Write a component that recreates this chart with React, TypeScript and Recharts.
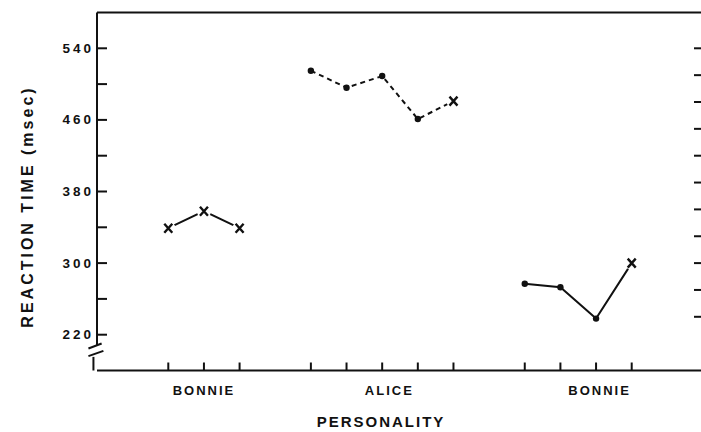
import { Line, LineChart, ReferenceLine, XAxis, YAxis } from 'recharts'

const INK = '#111'
const FONT = '"Liberation Sans", Arial, Helvetica, sans-serif'
const CHART_W = 703
const PLOT_RIGHT = CHART_W

// slot index on the x axis, reaction time (msec), marker type
const bonnieAX = [0, 1, 2]
const bonnieART = [339, 358, 339]
const bonnieAMarks = ['x', 'x', 'x']

const aliceX = [4, 5, 6, 7, 8]
const aliceRT = [515, 496, 509, 461, 481]
const aliceMarks = ['dot', 'dot', 'dot', 'dot', 'x']

const bonnieBX = [10, 11, 12, 13]
const bonnieBRT = [277, 273, 238, 300]
const bonnieBMarks = ['dot', 'dot', 'dot', 'x']

const slotTicks = [0, 1, 2, 4, 5, 6, 7, 8, 10, 11, 12, 13]
const groupTicks = [1, 6.2, 12.1]
const groupNames = ['BONNIE', 'ALICE', 'BONNIE']
const rtTicks = [220, 260, 300, 340, 380, 420, 460, 500, 540]
const rtLabelled = [220, 300, 380, 460, 540]
const rightTicks = [240, 270, 300, 330, 360, 390, 420, 450, 480, 510, 540]
const xDomain = [-2, 15]
const yDomain = [180, 580]

const allX = Array.from(new Set([...slotTicks, ...groupTicks])).sort((a, b) => a - b)
const allY = Array.from(new Set([...rtTicks, ...rightTicks])).sort((a, b) => a - b)

// left axis drawn in pieces so it can show the scale break
const axisUpper = [{ x: -2, y: 580 }, { x: -2, y: 208.3 }]
const axisLower = [{ x: -2.1, y: 195.2 }, { x: -2.1, y: 180 }]
const breakA = [{ x: -2.24, y: 204.6 }, { x: -1.87, y: 210.2 }]
const breakB = [{ x: -2.24, y: 196 }, { x: -1.82, y: 201.9 }]

const toPoints = (xs: number[], ys: number[], marks: string[]) =>
  xs.map((slot, i) => ({ slot, rt: ys[i], mark: marks[i] }))

function Marker(props: any) {
  const { cx, cy, payload, index } = props
  if (cx == null || cy == null) return null
  if (payload.mark === 'x') {
    return (
      <g key={index}>
        <circle cx={cx} cy={cy} r={7} fill="#fff" />
        <path
          d={`M${cx - 4},${cy - 4.5}L${cx + 4},${cy + 4.5}M${cx + 4},${cy - 4.5}L${cx - 4},${cy + 4.5}`}
          stroke={INK}
          strokeWidth={2.4}
        />
      </g>
    )
  }
  return <circle key={index} cx={cx} cy={cy} r={3.2} fill={INK} />
}

function XTick({ x, y, payload }: any) {
  const v = payload.value
  const g = groupTicks.indexOf(v)
  return (
    <g>
      {slotTicks.includes(v) && <line x1={x} x2={x} y1={y} y2={y - 8} stroke={INK} strokeWidth={2} />}
      {g >= 0 && (
        <text x={x} y={y + 24.5} textAnchor="middle" fill={INK} fontFamily={FONT} fontWeight="bold" fontSize={13} letterSpacing={2}>
          {groupNames[g]}
        </text>
      )}
    </g>
  )
}

function YTick({ x, y, payload }: any) {
  const v = payload.value
  return (
    <g>
      {rtTicks.includes(v) && <line x1={x} x2={x + 10} y1={y} y2={y} stroke={INK} strokeWidth={2} />}
      {rightTicks.includes(v) && <line x1={PLOT_RIGHT - 9} x2={PLOT_RIGHT} y1={y} y2={y} stroke={INK} strokeWidth={2} />}
      {rtLabelled.includes(v) && (
        <text x={x - 3} y={y + 4.5} textAnchor="end" fill={INK} fontFamily={FONT} fontWeight="bold" fontSize={13.5} letterSpacing={3}>
          {v}
        </text>
      )}
    </g>
  )
}

const yTitle = () => (
  <text x={33} y={206.5} transform="rotate(-90 33 206.5)" textAnchor="middle" fill={INK} fontFamily={FONT} fontWeight="bold" fontSize={16} letterSpacing={3}>
    REACTION TIME (msec)
  </text>
)

const xTitle = () => (
  <text x={381} y={427} textAnchor="middle" fill={INK} fontFamily={FONT} fontWeight="bold" fontSize={15} letterSpacing={2}>
    PERSONALITY
  </text>
)

export default function App() {
  const seg = { xAxisId: 'slots', yAxisId: 'rt', stroke: INK, strokeWidth: 2, ifOverflow: 'visible' as const }
  return (
    <div style={{ position: 'absolute', left: 0, top: 0, width: 701, height: 432, overflow: 'hidden', background: '#fff' }}>
      <LineChart width={CHART_W} height={432} margin={{ top: 12.5, right: 0, left: 0, bottom: 60.5 }}>
        <XAxis
          xAxisId="slots"
          dataKey="slot"
          type="number"
          domain={xDomain}
          allowDataOverflow
          ticks={allX}
          interval={0}
          height={1}
          tickSize={0}
          tickMargin={0}
          tickLine={false}
          tick={<XTick />}
          axisLine={{ stroke: INK, strokeWidth: 2 }}
          label={xTitle}
        />
        <YAxis
          yAxisId="rt"
          type="number"
          domain={yDomain}
          allowDataOverflow
          ticks={allY}
          interval={0}
          width={97}
          tickSize={0}
          tickMargin={0}
          tickLine={false}
          axisLine={false}
          tick={<YTick />}
          label={yTitle}
        />
        <ReferenceLine xAxisId="slots" yAxisId="rt" y={580} stroke={INK} strokeWidth={2} />
        <ReferenceLine {...seg} segment={axisUpper} />
        <ReferenceLine {...seg} segment={axisLower} />
        <ReferenceLine {...seg} segment={breakA} />
        <ReferenceLine {...seg} segment={breakB} />
        <Line
          xAxisId="slots"
          yAxisId="rt"
          data={toPoints(bonnieAX, bonnieART, bonnieAMarks)}
          dataKey="rt"
          stroke={INK}
          strokeWidth={2}
          dot={Marker}
          activeDot={false}
          isAnimationActive={false}
        />
        <Line
          xAxisId="slots"
          yAxisId="rt"
          data={toPoints(aliceX, aliceRT, aliceMarks)}
          dataKey="rt"
          stroke={INK}
          strokeWidth={2}
          strokeDasharray="5 4"
          dot={Marker}
          activeDot={false}
          isAnimationActive={false}
        />
        <Line
          xAxisId="slots"
          yAxisId="rt"
          data={toPoints(bonnieBX, bonnieBRT, bonnieBMarks)}
          dataKey="rt"
          stroke={INK}
          strokeWidth={2}
          dot={Marker}
          activeDot={false}
          isAnimationActive={false}
        />
      </LineChart>
    </div>
  )
}
